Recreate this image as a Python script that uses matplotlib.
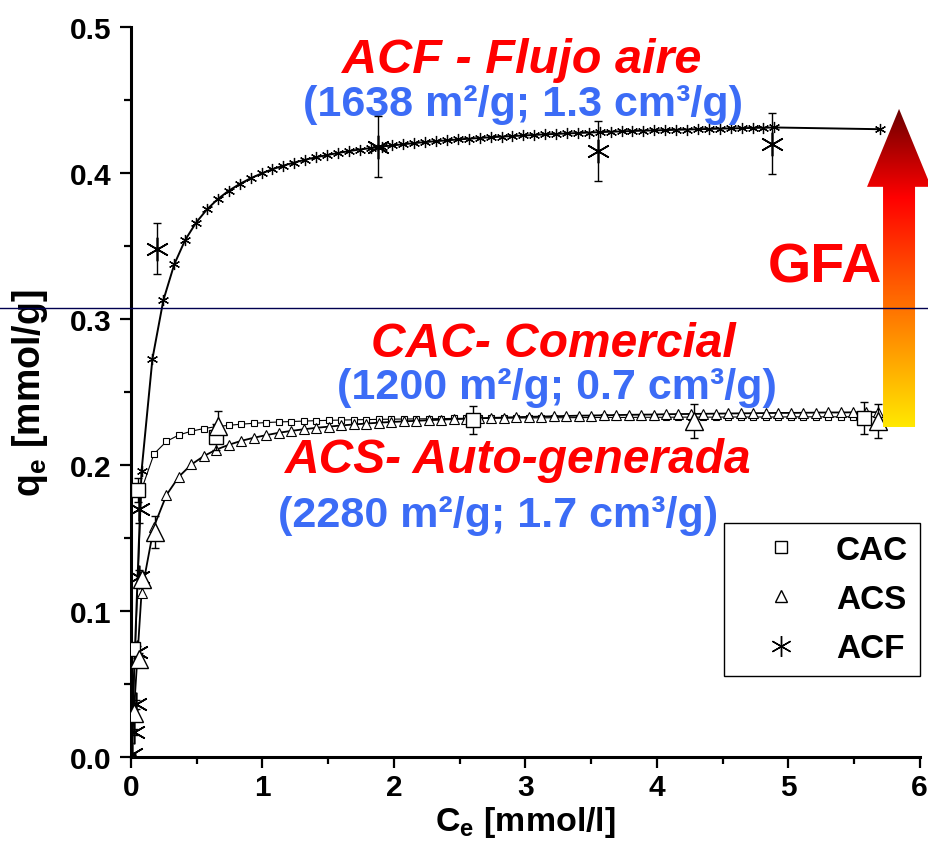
import numpy as np
import matplotlib
matplotlib.use("Agg")
import matplotlib.pyplot as plt
from matplotlib.lines import Line2D
from matplotlib.patches import Polygon
from matplotlib.colors import LinearSegmentedColormap
import matplotlib.transforms as mtransforms

plt.rcParams['font.family'] = ['Liberation Sans', 'DejaVu Sans']
plt.rcParams['mathtext.fontset'] = 'custom'
plt.rcParams['mathtext.rm'] = 'Liberation Sans:bold'
plt.rcParams['mathtext.it'] = 'Liberation Sans:bold'
plt.rcParams['mathtext.bf'] = 'Liberation Sans:bold'

# experimental points (Ce, qe, error)
cac_c = [0.015, 0.05, 0.65, 2.60, 5.58]
cac_q = [0.074, 0.183, 0.219, 0.231, 0.232]
cac_err = [0.003, 0.008, 0.009, 0.0095, 0.011]

acs_c = [0.02, 0.06, 0.08, 0.18, 0.66, 4.28, 5.68]
acs_q = [0.030, 0.067, 0.122, 0.154, 0.227, 0.230, 0.230]
acs_err = [0.002, 0.004, 0.005, 0.011, 0.010, 0.0116, 0.0116]

acf_c = [0.005, 0.02, 0.035, 0.045, 0.06, 0.06, 0.20, 1.88, 3.55, 4.88]
acf_q = [0.002, 0.017, 0.036, 0.072, 0.123, 0.170, 0.348, 0.418, 0.415, 0.420]
acf_err = [0.001, 0.002, 0.003, 0.004, 0.005, 0.010, 0.0175, 0.021, 0.0205, 0.021]

# Langmuir fit curves
fit_c = [0.0, 0.080, 0.175, 0.270, 0.365, 0.460, 0.555, 0.650, 0.745, 0.840, 0.935,
         1.030, 1.125, 1.220, 1.315, 1.410, 1.505, 1.600, 1.695, 1.790, 1.885,
         1.980, 2.075, 2.170, 2.265, 2.360, 2.455, 2.550, 2.645, 2.740, 2.835,
         2.930, 3.025, 3.120, 3.215, 3.310, 3.405, 3.500, 3.595, 3.690, 3.785,
         3.880, 3.975, 4.070, 4.165, 4.260, 4.355, 4.450, 4.545, 4.640, 4.735,
         4.830, 4.925, 5.020, 5.115, 5.210, 5.305, 5.400, 5.495, 5.590, 5.685]
cac_fit = [0.0, 0.1831, 0.2076, 0.2162, 0.2206, 0.2232, 0.2250, 0.2263, 0.2272, 0.2280, 0.2286,
           0.2291, 0.2295, 0.2298, 0.2301, 0.2304, 0.2306, 0.2308, 0.2310, 0.2311, 0.2313,
           0.2314, 0.2315, 0.2316, 0.2317, 0.2318, 0.2319, 0.2320, 0.2321, 0.2321, 0.2322,
           0.2322, 0.2323, 0.2323, 0.2324, 0.2324, 0.2325, 0.2325, 0.2326, 0.2326, 0.2326,
           0.2327, 0.2327, 0.2327, 0.2328, 0.2328, 0.2328, 0.2328, 0.2329, 0.2329, 0.2329,
           0.2329, 0.2329, 0.2330, 0.2330, 0.2330, 0.2330, 0.2330, 0.2331, 0.2331, 0.2331]
acs_fit = [0.0, 0.1123, 0.1579, 0.1795, 0.1921, 0.2004, 0.2062, 0.2106, 0.2139, 0.2166, 0.2187,
           0.2205, 0.2221, 0.2234, 0.2245, 0.2255, 0.2263, 0.2271, 0.2278, 0.2284, 0.2290,
           0.2295, 0.2299, 0.2303, 0.2307, 0.2311, 0.2314, 0.2317, 0.2320, 0.2323, 0.2325,
           0.2328, 0.2330, 0.2332, 0.2334, 0.2336, 0.2338, 0.2339, 0.2341, 0.2342, 0.2344,
           0.2345, 0.2346, 0.2348, 0.2349, 0.2350, 0.2351, 0.2352, 0.2353, 0.2354, 0.2355,
           0.2356, 0.2357, 0.2357, 0.2358, 0.2359, 0.2360, 0.2360, 0.2361, 0.2362, 0.2362]

acf_fit_c = [0.0, 0.080, 0.163, 0.246, 0.329, 0.412, 0.495, 0.578, 0.661, 0.744, 0.827,
             0.910, 0.993, 1.076, 1.159, 1.242, 1.325, 1.408, 1.491, 1.574, 1.657,
             1.740, 1.823, 1.906, 1.989, 2.072, 2.155, 2.238, 2.321, 2.404, 2.487,
             2.570, 2.653, 2.736, 2.819, 2.902, 2.985, 3.068, 3.151, 3.234, 3.317,
             3.400, 3.483, 3.566, 3.649, 3.732, 3.815, 3.898, 3.981, 4.064, 4.147,
             4.230, 4.313, 4.396, 4.479, 4.562, 4.645, 4.728, 4.811, 4.894, 5.700]
acf_fit = [0.0, 0.1956, 0.2727, 0.3128, 0.3374, 0.3541, 0.3660, 0.3751, 0.3822, 0.3879, 0.3925,
           0.3964, 0.3997, 0.4026, 0.4051, 0.4072, 0.4091, 0.4108, 0.4123, 0.4137, 0.4150,
           0.4161, 0.4171, 0.4181, 0.4189, 0.4197, 0.4205, 0.4212, 0.4218, 0.4224, 0.4230,
           0.4235, 0.4240, 0.4245, 0.4249, 0.4253, 0.4257, 0.4261, 0.4265, 0.4268, 0.4271,
           0.4274, 0.4277, 0.4280, 0.4283, 0.4285, 0.4288, 0.4290, 0.4292, 0.4294, 0.4296,
           0.4298, 0.4300, 0.4302, 0.4304, 0.4306, 0.4307, 0.4309, 0.4310, 0.4312, 0.4300]

gfa_level = 0.3075

fig = plt.figure(figsize=(9.29, 8.62), dpi=100)
ax = fig.add_axes([0.141, 0.1206, 0.849, 0.8469])

# fitted curves with small markers
ax.plot(fit_c, cac_fit, color='black', lw=0.8, marker='s', ms=4.5, mfc='white', mec='black', mew=0.8, zorder=3)
ax.plot(fit_c, acs_fit, color='black', lw=1.3, marker='^', ms=7.5, mfc='white', mec='black', mew=0.8, zorder=3)
ax.plot(acf_fit_c, acf_fit, color='black', lw=1.4, marker=(6, 2, 0), ms=8, mec='black', mew=0.9, zorder=3)

# experimental data
ax.errorbar(cac_c, cac_q, yerr=cac_err, fmt='s', ms=10, mfc='white', mec='black', mew=1.0,
            ecolor='black', elinewidth=1.0, capsize=3, zorder=4)
ax.errorbar(acs_c, acs_q, yerr=acs_err, fmt='^', ms=13, mfc='white', mec='black', mew=1.0,
            ecolor='black', elinewidth=1.0, capsize=3, zorder=4)
ax.errorbar(acf_c, acf_q, yerr=acf_err, fmt='none', ecolor='black', elinewidth=1.0, capsize=3, zorder=4)
ax.plot(acf_c, acf_q, ls='none', marker=(6, 2, 0), ms=17, mec='black', mew=1.2, zorder=4)

# horizontal reference line across the figure
trans = mtransforms.blended_transform_factory(fig.transFigure, ax.transData)
fig.add_artist(Line2D([0, 1], [gfa_level, gfa_level], transform=trans, color='#000050', lw=1.0))

ax.set_xlim(0, 6)
ax.set_ylim(0, 0.5)
ax.set_xticks(np.arange(0, 6.1, 1))
ax.set_xticks(np.arange(0.5, 6, 1), minor=True)
ax.set_yticks(np.arange(0, 0.51, 0.1))
ax.set_yticks(np.arange(0.05, 0.5, 0.1), minor=True)
ax.set_yticklabels(['0.0', '0.1', '0.2', '0.3', '0.4', '0.5'])
for s in ['top', 'right']:
    ax.spines[s].set_visible(False)
for s in ['left', 'bottom']:
    ax.spines[s].set_linewidth(2.2)
ax.tick_params(which='major', direction='out', length=8, width=1.6, labelsize=21.5)
ax.tick_params(which='minor', direction='out', length=5, width=1.6)
ax.tick_params(axis='y', pad=6)
for lab in ax.get_xticklabels() + ax.get_yticklabels():
    lab.set_fontweight('bold')

ax.set_xlabel(r'C$_\mathregular{e}$ [mmol/l]', fontsize=24.5, fontweight='bold', labelpad=2)
ax.set_ylabel(r'q$_\mathregular{e}$ [mmol/g]', fontsize=27, fontweight='bold', labelpad=14)

red = '#FF0000'
blue = '#3C6CF6'
ax.text(0.4956, 0.956, 'ACF - Flujo aire', transform=ax.transAxes, color=red, fontsize=35,
        fontweight='bold', style='italic', ha='center', va='center')
ax.text(0.497, 0.895, '(1638 m²/g; 1.3 cm³/g)', transform=ax.transAxes, color=blue, fontsize=31,
        fontweight='bold', ha='center', va='center')
ax.text(0.535, 0.566, 'CAC- Comercial', transform=ax.transAxes, color=red, fontsize=34.5,
        fontweight='bold', style='italic', ha='center', va='center')
ax.text(0.540, 0.507, '(1200 m²/g; 0.7 cm³/g)', transform=ax.transAxes, color=blue, fontsize=31,
        fontweight='bold', ha='center', va='center')
ax.text(0.491, 0.407, 'ACS- Auto-generada', transform=ax.transAxes, color=red, fontsize=34.5,
        fontweight='bold', style='italic', ha='center', va='center')
ax.text(0.466, 0.332, '(2280 m²/g; 1.7 cm³/g)', transform=ax.transAxes, color=blue, fontsize=31,
        fontweight='bold', ha='center', va='center')
ax.text(0.880, 0.671, 'GFA', transform=ax.transAxes, color=red, fontsize=40,
        fontweight='bold', ha='center', va='center')

# legend
handles = [Line2D([], [], ls='none', marker='s', ms=8, mfc='white', mec='black', mew=1.0),
           Line2D([], [], ls='none', marker='^', ms=9, mfc='white', mec='black', mew=1.0),
           Line2D([], [], ls='none', marker=(6, 2, 0), ms=15, mec='black', mew=1.0)]
leg = ax.legend(handles, ['CAC', 'ACS', 'ACF'], loc='lower right', bbox_to_anchor=(1.0, 0.111),
                frameon=True, fancybox=False, edgecolor='black', framealpha=1,
                prop={'weight': 'bold', 'size': 24}, handletextpad=0.3, labelspacing=0.55,
                borderpad=0.35, handlelength=2.7, borderaxespad=0)
leg.get_frame().set_linewidth(1.0)

# gradient arrow
arr_ax = fig.add_axes([0.9333, 0.5035, 0.0689, 0.369])
arr_ax.set_xlim(0, 1)
arr_ax.set_ylim(0, 1)
arr_ax.axis('off')
cmap = LinearSegmentedColormap.from_list('gfa', [(0.0, '#FFE800'), (0.45, '#FF5A00'),
                                                  (0.72, '#FF0000'), (1.0, '#6B0000')])
grad = np.linspace(0, 1, 256).reshape(-1, 1)
img = arr_ax.imshow(grad, cmap=cmap, origin='lower', extent=(0, 1, 0, 1), aspect='auto')
arrow = Polygon([(0.25, 0), (0.75, 0), (0.75, 0.755), (1.0, 0.755), (0.5, 1.0),
                 (0.0, 0.755), (0.25, 0.755)], closed=True, transform=arr_ax.transData,
                facecolor='none', edgecolor='none')
arr_ax.add_patch(arrow)
img.set_clip_path(arrow)

fig.savefig('out.png', dpi=100)
